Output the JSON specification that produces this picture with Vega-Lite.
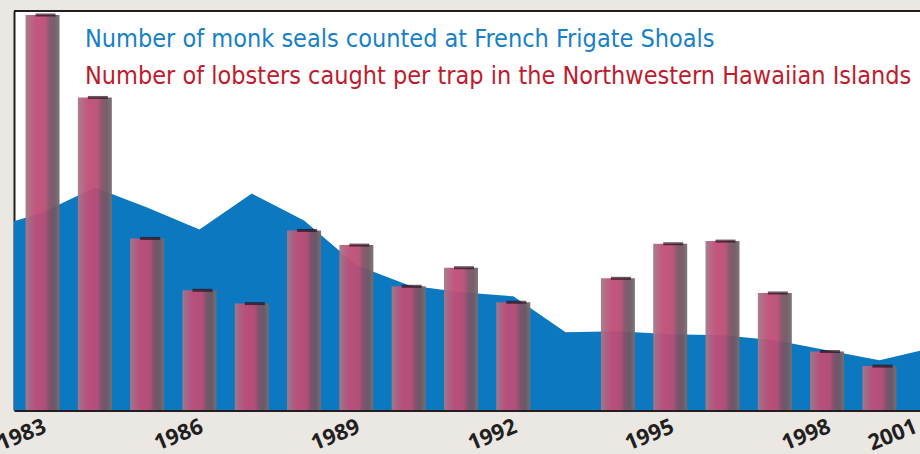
{
  "$schema": "https://vega.github.io/schema/vega-lite/v6.json",
  "autosize": {"type": "none"},
  "padding": {"left": 14, "top": 11, "right": 0, "bottom": 44},
  "width": 906,
  "height": 399,
  "background": "#ebe8e4",
  "config": {"view": {"stroke": null, "fill": "#ffffff"}},
  "title": {
    "text": "Number of monk seals counted at French Frigate Shoals",
    "subtitle": "Number of lobsters caught per trap in the Northwestern Hawaiian Islands",
    "anchor": "start",
    "frame": "group",
    "orient": "top",
    "offset": 0,
    "dx": 71,
    "dy": 79,
    "font": "DejaVu Sans Condensed, sans-serif",
    "fontSize": 25,
    "fontWeight": "normal",
    "color": "#1680c8",
    "subtitleFont": "DejaVu Sans Condensed, sans-serif",
    "subtitleFontSize": 25,
    "subtitleFontWeight": "normal",
    "subtitleColor": "#c01a2c",
    "subtitlePadding": 12
  },
  "data": {
    "values": [
      {"year": 1982, "seals": 182, "lobsters": null},
      {"year": 1983, "seals": 198, "lobsters": 2.97},
      {"year": 1984, "seals": 223, "lobsters": 2.35},
      {"year": 1985, "seals": 203, "lobsters": 1.29},
      {"year": 1986, "seals": 181, "lobsters": 0.90},
      {"year": 1987, "seals": 217, "lobsters": 0.80},
      {"year": 1988, "seals": 190, "lobsters": 1.35},
      {"year": 1989, "seals": 145, "lobsters": 1.24},
      {"year": 1990, "seals": 125, "lobsters": 0.93},
      {"year": 1991, "seals": 118, "lobsters": 1.07},
      {"year": 1992, "seals": 114, "lobsters": 0.81},
      {"year": 1993, "seals": 78, "lobsters": null},
      {"year": 1994, "seals": 79, "lobsters": 0.99},
      {"year": 1995, "seals": 76, "lobsters": 1.25},
      {"year": 1996, "seals": 75, "lobsters": 1.27},
      {"year": 1997, "seals": 70, "lobsters": 0.88},
      {"year": 1998, "seals": 60, "lobsters": 0.44},
      {"year": 1999, "seals": 50, "lobsters": 0.33},
      {"year": 2000, "seals": 62, "lobsters": null}
    ]
  },
  "layer": [
    {
      "mark": {"type": "area", "color": "#0b78bf", "clip": true, "interpolate": "linear"},
      "encoding": {
        "x": {
          "field": "year", "type": "quantitative",
          "scale": {"domain": [1982.55, 1999.68], "nice": false, "zero": false},
          "axis": {
            "values": [1983, 1986, 1989, 1992, 1995, 1998, 1999.65],
            "format": "d",
            "labelExpr": "datum.value > 1999 ? '2001' : datum.label",
            "labelAngle": -22, "labelAlign": "right", "labelBaseline": "middle",
            "labelFont": "Open Sans", "labelFontSize": 22, "labelFontWeight": "bold", "labelColor": "#231f20",
            "labelPadding": 15, "labelOffset": 2, "labelFlush": false, "labelOverlap": false, "labelBound": false,
            "ticks": false, "grid": false, "domain": true, "domainColor": "#231f20", "domainWidth": 3, "title": null
          }
        },
        "y": {
          "field": "seals",
          "type": "quantitative",
          "scale": {"domain": [0, 400], "nice": false},
          "axis": {"orient": "left", "labels": false, "ticks": false, "grid": false, "title": null, "domain": true, "domainColor": "#231f20", "domainWidth": 2}
        }
      }
    },
    {
      "mark": {"type": "rule", "color": "#231f20", "strokeWidth": 2},
      "encoding": {
        "y": {"datum": 400, "type": "quantitative", "scale": {"domain": [0, 400], "nice": false}, "axis": null}
      }
    },
    {
      "mark": {
        "type": "bar",
        "size": 34,
        "opacity": 0.95,
        "color": {
          "gradient": "linear",
          "x1": 0, "y1": 0, "x2": 1, "y2": 0,
          "stops": [
            {"offset": 0, "color": "#a27a8c"},
            {"offset": 0.15, "color": "#b3617f"},
            {"offset": 0.3, "color": "#c24d78"},
            {"offset": 0.58, "color": "#b94e73"},
            {"offset": 0.7, "color": "#85506a"},
            {"offset": 0.85, "color": "#6d5862"},
            {"offset": 1, "color": "#7c6c72"}
          ]
        }
      },
      "encoding": {
        "x": {
          "field": "year", "type": "quantitative",
          "scale": {"domain": [1982.55, 1999.68], "nice": false, "zero": false},
          "axis": {
            "values": [1983, 1986, 1989, 1992, 1995, 1998, 1999.65],
            "format": "d",
            "labelExpr": "datum.value > 1999 ? '2001' : datum.label",
            "labelAngle": -22, "labelAlign": "right", "labelBaseline": "middle",
            "labelFont": "Open Sans", "labelFontSize": 22, "labelFontWeight": "bold", "labelColor": "#231f20",
            "labelPadding": 15, "labelOffset": 2, "labelFlush": false, "labelOverlap": false, "labelBound": false,
            "ticks": false, "grid": false, "domain": true, "domainColor": "#231f20", "domainWidth": 3, "title": null
          }
        },
        "y": {
          "field": "lobsters",
          "type": "quantitative",
          "scale": {"domain": [0, 3], "nice": false},
          "axis": null
        }
      }
    },
    {
      "mark": {"type": "tick", "orient": "horizontal", "size": 20, "thickness": 3, "color": "#2b0f1c", "xOffset": 3},
      "encoding": {
        "x": {
          "field": "year", "type": "quantitative",
          "scale": {"domain": [1982.55, 1999.68], "nice": false, "zero": false},
          "axis": {
            "values": [1983, 1986, 1989, 1992, 1995, 1998, 1999.65],
            "format": "d",
            "labelExpr": "datum.value > 1999 ? '2001' : datum.label",
            "labelAngle": -22, "labelAlign": "right", "labelBaseline": "middle",
            "labelFont": "Open Sans", "labelFontSize": 22, "labelFontWeight": "bold", "labelColor": "#231f20",
            "labelPadding": 15, "labelOffset": 2, "labelFlush": false, "labelOverlap": false, "labelBound": false,
            "ticks": false, "grid": false, "domain": true, "domainColor": "#231f20", "domainWidth": 3, "title": null
          }
        },
        "y": {
          "field": "lobsters",
          "type": "quantitative",
          "scale": {"domain": [0, 3], "nice": false},
          "axis": null
        }
      }
    }
  ],
  "resolve": {"scale": {"y": "independent"}}
}
